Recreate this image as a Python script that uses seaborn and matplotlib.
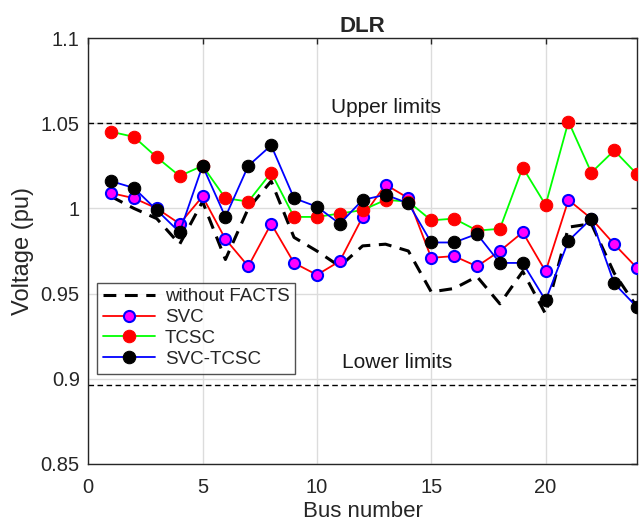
import numpy as np
import pandas as pd
import matplotlib
matplotlib.use("Agg")
import matplotlib.pyplot as plt
import seaborn as sns

# ---- data ----
bus = list(range(1, 25))
without_facts = [1.007, 1.000, 0.994, 0.979, 1.004, 0.970, 1.000, 1.016, 0.983, 0.975,
                 0.966, 0.978, 0.979, 0.975, 0.951, 0.953, 0.960, 0.944, 0.963, 0.938,
                 0.989, 0.991, 0.962, 0.942]
svc = [1.009, 1.006, 1.000, 0.991, 1.007, 0.982, 0.966, 0.991, 0.968, 0.961,
       0.969, 0.995, 1.014, 1.006, 0.971, 0.972, 0.966, 0.975, 0.986, 0.963,
       1.005, 0.994, 0.979, 0.965]
tcsc = [1.045, 1.042, 1.030, 1.019, 1.025, 1.006, 1.004, 1.021, 0.995, 0.995,
        0.997, 0.999, 1.005, 1.004, 0.993, 0.994, 0.987, 0.988, 1.024, 1.002,
        1.051, 1.021, 1.034, 1.020]
svc_tcsc = [1.016, 1.012, 0.999, 0.986, 1.025, 0.995, 1.025, 1.037, 1.006, 1.001,
            0.991, 1.005, 1.008, 1.003, 0.980, 0.980, 0.985, 0.968, 0.968, 0.946,
            0.981, 0.994, 0.956, 0.942]
upper_limit = 1.0502
lower_limit = 0.8962
y_ticks = [0.85, 0.9, 0.95, 1.0, 1.05, 1.1]
y_ticklabels = ["0.85", "0.9", "0.95", "1", "1.05", "1.1"]

df = pd.DataFrame({"bus": bus, "without": without_facts, "svc": svc,
                   "tcsc": tcsc, "svc_tcsc": svc_tcsc})

sns.set_style("white")
plt.rcParams["font.family"] = ["Liberation Sans", "DejaVu Sans"]

fig = plt.figure(figsize=(6.39, 5.25), dpi=100)
# axes box: x 88..637 px, y 38..464 px
ax = fig.add_axes([0.138, 0.1162, 0.859, 0.8114])

# limit lines
ax.axhline(upper_limit, color="black", lw=1, ls=(0, (4, 2.5)), zorder=2)
ax.axhline(lower_limit, color="black", lw=1, ls=(0, (4, 2.5)), zorder=2)

sns.lineplot(data=df, x="bus", y="without", ax=ax, color="black", lw=2.2,
             ls=(0, (4.2, 2.8)), label="without FACTS", zorder=3)
sns.lineplot(data=df, x="bus", y="svc", ax=ax, color="red", lw=1.3, marker="o",
             markersize=8, markerfacecolor="magenta", markeredgecolor="blue",
             markeredgewidth=1.5, label="SVC", zorder=4)
sns.lineplot(data=df, x="bus", y="tcsc", ax=ax, color="#00ff00", lw=1.3, marker="o",
             markersize=9, markerfacecolor="red", markeredgecolor="red",
             label="TCSC", zorder=4)
sns.lineplot(data=df, x="bus", y="svc_tcsc", ax=ax, color="blue", lw=1.3, marker="o",
             markersize=9, markerfacecolor="black", markeredgecolor="black",
             label="SVC-TCSC", zorder=5)

ax.text(13, 1.059, "Upper limits", ha="center", va="center", fontsize=15, color="#1a1a1a")
ax.text(13.5, 0.9094, "Lower limits", ha="center", va="center", fontsize=15, color="#1a1a1a")

ax.set_xlim(0, 24)
ax.set_ylim(0.85, 1.1)
ax.set_xticks([0, 5, 10, 15, 20])
ax.set_yticks(y_ticks)
ax.set_yticklabels(y_ticklabels)
ax.grid(True, color="#dcdcdc", lw=1)
ax.set_axisbelow(True)
ax.tick_params(direction="in", length=4, labelsize=14.5, colors="#262626",
               top=True, right=True, width=1, pad=6)
ax.tick_params(axis="x", pad=10)
for s in ax.spines.values():
    s.set_color("#262626")
    s.set_linewidth(1)

ax.set_xlabel("Bus number", fontsize=16, color="#262626", labelpad=3)
ax.set_ylabel("Voltage (pu)", fontsize=17, color="#262626", labelpad=5)
ax.set_title("DLR", fontsize=16, fontweight="bold", pad=4)

leg = ax.legend(loc="upper left", bbox_to_anchor=(0.0164, 0.426), fontsize=13.5,
                handlelength=2.8, frameon=True, fancybox=False, borderpad=0.3,
                labelspacing=0.2, handletextpad=0.5, borderaxespad=0)
leg.get_frame().set_edgecolor("#262626")
leg.get_frame().set_linewidth(1)

fig.savefig("out.png", dpi=100)
